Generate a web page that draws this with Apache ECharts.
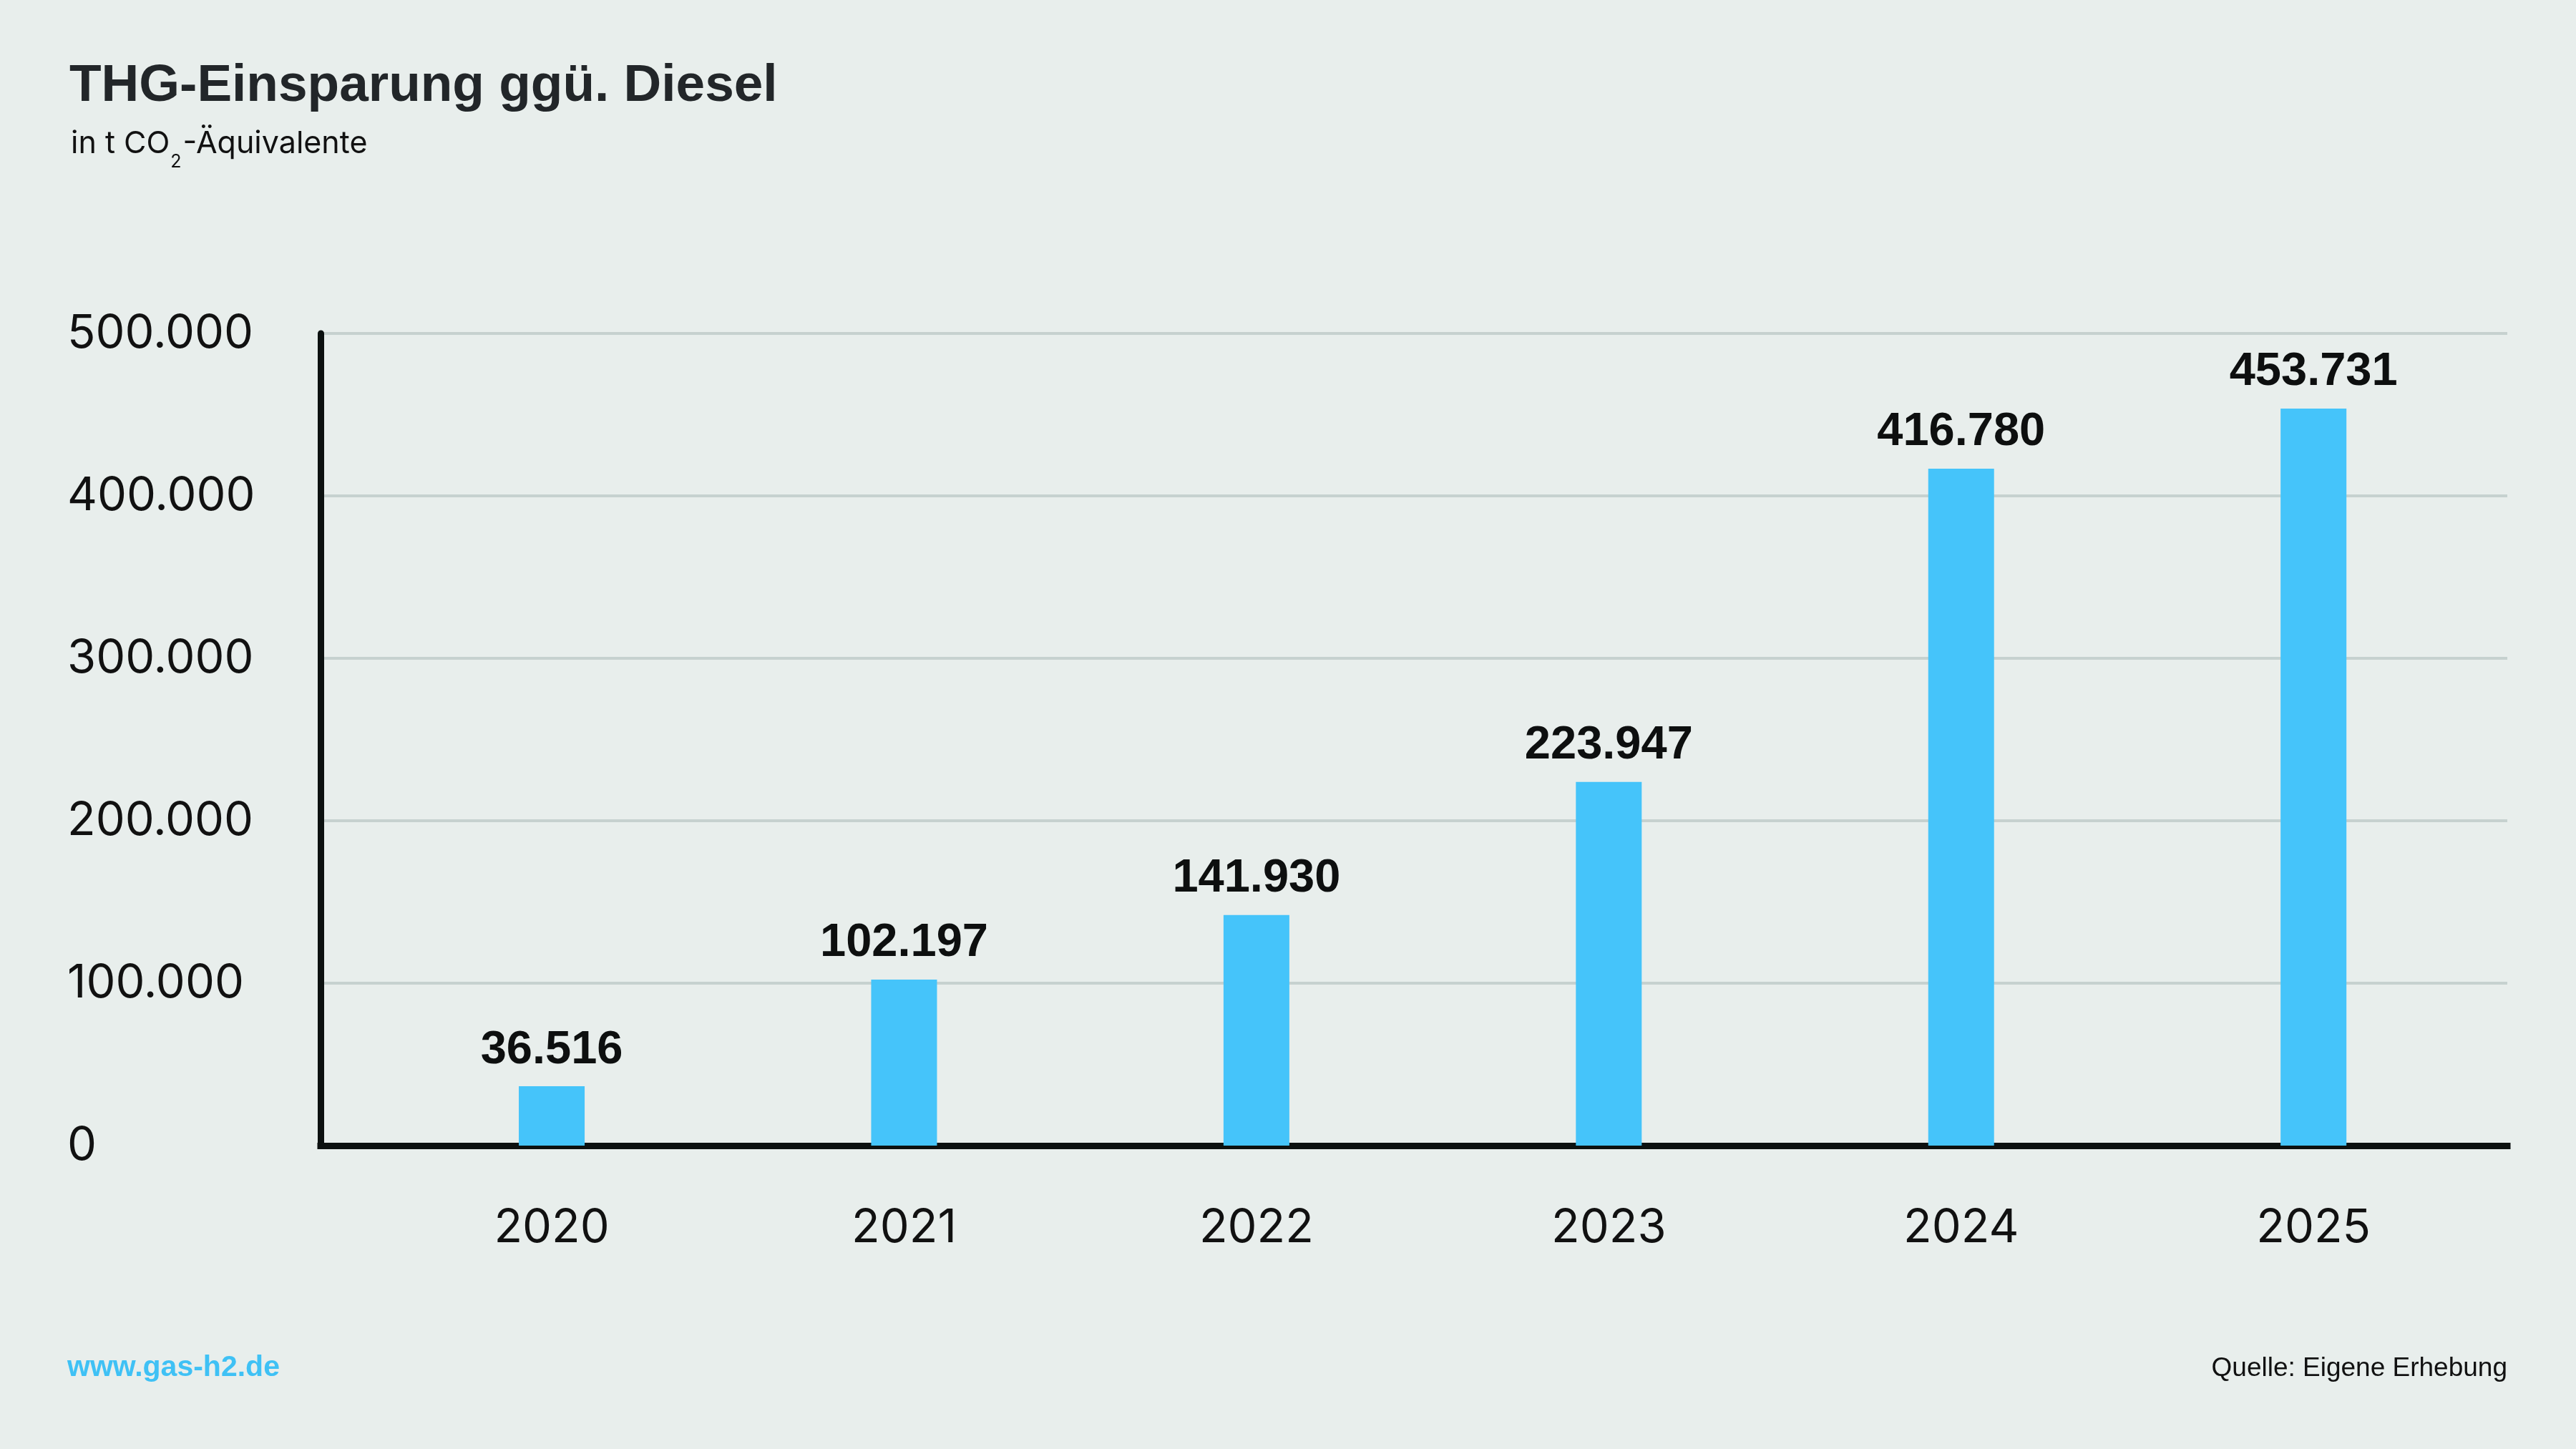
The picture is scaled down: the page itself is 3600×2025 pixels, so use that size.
<!DOCTYPE html>
<html>
<head>
<meta charset="utf-8">
<title>THG-Einsparung ggü. Diesel</title>
<script src="https://cdn.jsdelivr.net/npm/echarts@6/dist/echarts.min.js"></script>
<style>
html, body { margin: 0; padding: 0; background: #e8eeec; }
#chart_1 { width: 3600px; height: 2025px; }
</style>
</head>
<body>
<div id="chart_1"></div>
<script>
var years = [2020, 2021, 2022, 2023, 2024, 2025];
var savings = [36516, 102197, 141930, 223947, 416780, 453731];

// deutsche Tausenderpunkte
function dots(v) {
    return String(v).replace(/\B(?=(\d{3})+(?!\d))/g, '.');
}

var barData = years.map(function(y, i) {
    return [y, savings[i]];
});

var myChart = echarts.init(document.getElementById('chart_1'));

var option = {
    backgroundColor: '#e8eeec',
    animation: false,
    title: [{
        text: 'THG-Einsparung ggü. Diesel',
        left: 97,
        top: 84,
        padding: 0,
        textStyle: {
            fontFamily: 'Liberation Sans',
            fontWeight: 'bold',
            fontSize: 73,
            lineHeight: 73,
            color: '#222629'
        }
    }, {
        text: '{a|in t CO}{s|2}{a|-Äquivalente}',
        left: 99,
        top: 180,
        padding: 0,
        textStyle: {
            fontWeight: 'normal',
            rich: {
                a: {
                    fontFamily: 'Inter',
                    fontWeight: 'normal',
                    fontSize: 43,
                    lineHeight: 43,
                    verticalAlign: 'top',
                    color: '#111'
                },
                s: {
                    fontFamily: 'Inter',
                    fontWeight: 'normal',
                    fontSize: 25,
                    lineHeight: 25,
                    padding: [34, 2, 0, 1], // Index tiefer setzen
                    verticalAlign: 'top',
                    color: '#111'
                }
            }
        }
    }, {
        text: 'www.gas-h2.de',
        left: 94,
        top: 1891,
        padding: 0,
        textStyle: {
            fontFamily: 'Liberation Sans',
            fontWeight: 'bold',
            fontSize: 41,
            lineHeight: 41,
            color: '#3fc1f5'
        }
    }, {
        text: 'Quelle: Eigene Erhebung',
        right: 96,
        top: 1894,
        padding: 0,
        textStyle: {
            fontFamily: 'Liberation Sans',
            fontWeight: 'normal',
            fontSize: 37,
            lineHeight: 37,
            color: '#111'
        }
    }],
    grid: {
        left: 448,
        right: 96,
        top: 466,
        bottom: 424
    },
    xAxis: {
        type: 'value',
        min: 2019.344,
        max: 2025.55,
        axisLine: {
            show: true,
            lineStyle: {
                color: '#0c1110',
                width: 9,
                cap: 'square'
            }
        },
        axisTick: { show: false },
        splitLine: { show: false },
        axisLabel: {
            customValues: years,
            margin: 83,
            fontFamily: 'Inter',
            fontSize: 65,
            lineHeight: 65,
            color: '#111',
            formatter: function(v) {
                return String(v);
            }
        }
    },
    yAxis: {
        type: 'value',
        min: 0,
        max: 500000,
        interval: 100000,
        axisLine: {
            show: true,
            lineStyle: {
                color: '#0c1110',
                width: 9
            }
        },
        axisTick: { show: false },
        splitLine: {
            show: true,
            lineStyle: {
                color: '#c6d1cf',
                width: 4
            }
        },
        axisLabel: {
            align: 'left',
            margin: 354,
            padding: [10, 0, 0, 0],
            fontFamily: 'Inter',
            fontSize: 65,
            lineHeight: 65,
            color: '#111',
            formatter: function(v) {
                return dots(v);
            }
        }
    },
    series: [{
        type: 'bar',
        data: barData,
        barWidth: 92,
        itemStyle: {
            color: '#45c4fa'
        },
        label: {
            show: true,
            position: 'top',
            distance: 18,
            fontFamily: 'Liberation Sans',
            fontWeight: 'bold',
            fontSize: 65,
            lineHeight: 65,
            color: '#0d0f0f',
            formatter: function(p) {
                return dots(p.value[1]);
            }
        }
    }]
};

myChart.setOption(option);
</script>
</body>
</html>
